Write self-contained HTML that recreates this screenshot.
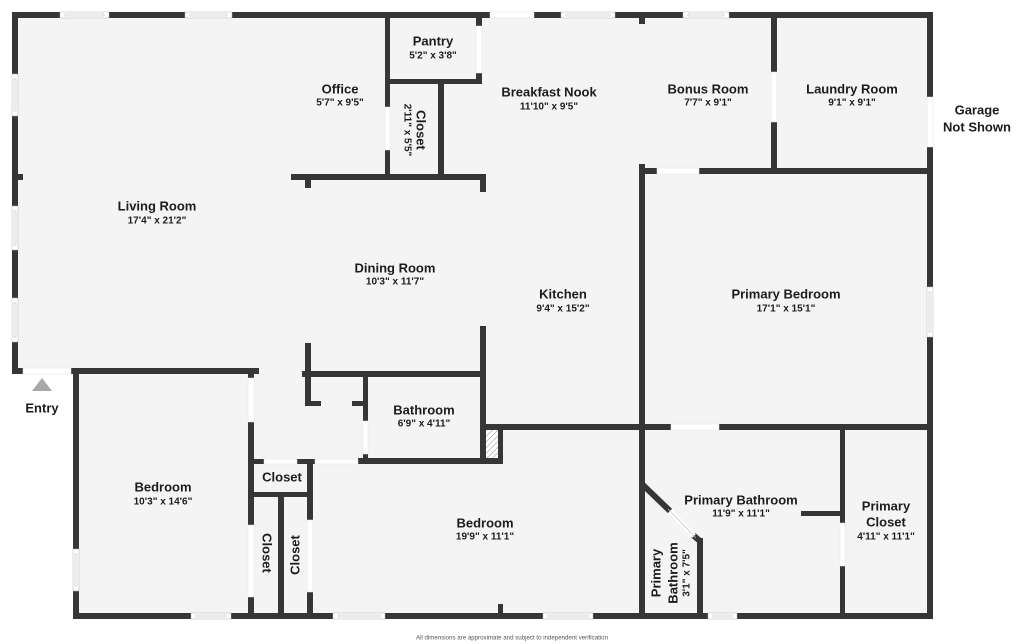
<!DOCTYPE html>
<html>
<head>
<meta charset="utf-8">
<style>
html,body{margin:0;padding:0;background:#fff;}
svg{display:block;}
text{font-family:"Liberation Sans",Arial,sans-serif;fill:#1c1c1c;text-anchor:middle;dominant-baseline:central;}
.t{font-size:13px;font-weight:bold;}
.d{font-size:10px;font-weight:bold;}
</style>
</head>
<body>
<svg width="1024" height="644" viewBox="0 0 1024 644" xmlns="http://www.w3.org/2000/svg">
<defs>
<pattern id="hatch" width="4" height="4" patternUnits="userSpaceOnUse" patternTransform="rotate(45)">
<rect width="4" height="4" fill="#fff"/>
<line x1="0" y1="0" x2="0" y2="4" stroke="#8a8a8a" stroke-width="1"/>
</pattern>
</defs>
<rect width="1024" height="644" fill="#fff"/>
<polygon points="12,12 933,12 933,619 73,619 73,374 12,374" fill="#f4f4f4"/>

<g fill="#363636">
<rect x="12" y="12" width="921" height="6"/>
<rect x="12" y="12" width="6" height="362"/>
<rect x="927" y="12" width="6" height="607"/>
<rect x="73" y="613" width="860" height="6"/>
<rect x="73" y="368" width="6" height="251"/>
<rect x="71" y="368" width="188" height="6"/>
<rect x="12" y="368" width="11" height="6"/>
<rect x="18" y="174" width="5" height="6"/>

<rect x="385" y="12" width="5" height="168"/>
<rect x="385" y="79" width="97" height="5"/>
<rect x="476" y="12" width="6" height="72"/>
<rect x="438" y="79" width="6" height="101"/>
<rect x="291" y="174" width="195" height="6"/>
<rect x="305" y="180" width="6" height="8"/>
<rect x="480" y="180" width="6" height="12"/>

<rect x="639" y="18" width="6" height="6"/>
<rect x="771" y="12" width="6" height="162"/>
<rect x="639" y="168" width="294" height="6"/>
<rect x="639" y="164" width="6" height="455"/>
<rect x="480" y="424" width="453" height="6"/>
<rect x="840" y="424" width="5" height="195"/>
<rect x="801" y="511" width="42" height="5"/>

<line x1="643" y1="485" x2="670" y2="511" stroke="#363636" stroke-width="6"/>
<line x1="693" y1="535" x2="701" y2="542" stroke="#363636" stroke-width="6"/>
<rect x="697" y="538" width="6" height="81"/>

<rect x="480" y="326" width="6" height="138"/>
<rect x="302" y="371" width="184" height="6"/>
<rect x="305" y="343" width="6" height="63"/>
<rect x="305" y="401" width="16" height="5"/>
<rect x="363" y="371" width="5" height="93"/>
<rect x="352" y="401" width="12" height="5"/>
<rect x="358" y="458" width="145" height="6"/>
<rect x="498" y="424" width="5" height="40"/>

<rect x="248" y="368" width="6" height="251"/>
<rect x="248" y="459" width="67" height="5"/>
<rect x="254" y="492" width="56" height="5"/>
<rect x="307" y="459" width="6" height="160"/>
<rect x="278" y="492" width="6" height="127"/>
<rect x="498" y="604" width="5" height="10"/>
</g>

<rect x="486" y="430" width="12" height="28" fill="url(#hatch)"/>

<g fill="#fff" stroke="#e2e2e2" stroke-width="0.5">
<rect x="490" y="12" width="44" height="6"/>
<rect x="23" y="368" width="48" height="6"/>
<rect x="927" y="97" width="6" height="50"/>
<rect x="385" y="107" width="5" height="43"/>
<rect x="476" y="26" width="6" height="47"/>
<rect x="771" y="72" width="6" height="50"/>
<rect x="657" y="168" width="42" height="6"/>
<rect x="671" y="424" width="48" height="6"/>
<rect x="840" y="523" width="5" height="43"/>
<rect x="363" y="421" width="5" height="33"/>
<rect x="248" y="378" width="6" height="44"/>
<rect x="248" y="525" width="6" height="72"/>
<rect x="264" y="459" width="33" height="5"/>
<rect x="315" y="459" width="43" height="5"/>
<rect x="307" y="520" width="6" height="72"/>
</g>
<line x1="670" y1="511" x2="694" y2="536" stroke="#fff" stroke-width="5"/>
<line x1="668" y1="509" x2="692" y2="534" stroke="#ccc" stroke-width="0.6"/>
<line x1="672" y1="513" x2="696" y2="538" stroke="#ccc" stroke-width="0.6"/>

<g fill="#fff" stroke="#b4b4b4" stroke-width="0.5">
<rect x="60" y="12" width="49" height="6"/><rect x="65" y="14" width="39" height="2"/>
<rect x="185" y="12" width="47" height="6"/><rect x="190" y="14" width="37" height="2"/>
<rect x="561" y="12" width="54" height="6"/><rect x="566" y="14" width="44" height="2"/>
<rect x="683" y="12" width="46" height="6"/><rect x="688" y="14" width="36" height="2"/>
<rect x="12" y="74" width="6" height="42"/><rect x="14" y="79" width="2" height="32"/>
<rect x="12" y="206" width="6" height="44"/><rect x="14" y="211" width="2" height="34"/>
<rect x="12" y="298" width="6" height="44"/><rect x="14" y="303" width="2" height="34"/>
<rect x="927" y="287" width="6" height="50"/><rect x="929" y="292" width="2" height="40"/>
<rect x="73" y="549" width="6" height="42"/><rect x="75" y="554" width="2" height="32"/>
<rect x="191" y="613" width="40" height="6"/><rect x="196" y="615" width="30" height="2"/>
<rect x="333" y="613" width="52" height="6"/><rect x="338" y="615" width="42" height="2"/>
<rect x="543" y="613" width="50" height="6"/><rect x="548" y="615" width="40" height="2"/>
<rect x="708" y="613" width="29" height="6"/><rect x="713" y="615" width="19" height="2"/>
</g>

<polygon points="32,391 52,391 42,378" fill="#a8a8a8"/>

<text class="t" x="340" y="89">Office</text>
<text class="d" x="340" y="103">5'7" x 9'5"</text>
<text class="t" x="433" y="41">Pantry</text>
<text class="d" x="433" y="56">5'2" x 3'8"</text>
<g transform="translate(421,130) rotate(90)"><text class="t" x="0" y="0">Closet</text></g>
<g transform="translate(407,130) rotate(90)"><text class="d" x="0" y="0">2'11" x 5'5"</text></g>
<text class="t" x="157" y="206">Living Room</text>
<text class="d" x="157" y="221">17'4" x 21'2"</text>
<text class="t" x="395" y="268">Dining Room</text>
<text class="d" x="395" y="282">10'3" x 11'7"</text>
<text class="t" x="549" y="92">Breakfast Nook</text>
<text class="d" x="549" y="107">11'10" x 9'5"</text>
<text class="t" x="708" y="89">Bonus Room</text>
<text class="d" x="708" y="103">7'7" x 9'1"</text>
<text class="t" x="852" y="89">Laundry Room</text>
<text class="d" x="852" y="103">9'1" x 9'1"</text>
<text class="t" x="977" y="110">Garage</text>
<text class="t" x="977" y="127">Not Shown</text>
<text class="t" x="563" y="294">Kitchen</text>
<text class="d" x="563" y="309">9'4" x 15'2"</text>
<text class="t" x="786" y="294">Primary Bedroom</text>
<text class="d" x="786" y="309">17'1" x 15'1"</text>
<text class="t" x="424" y="410">Bathroom</text>
<text class="d" x="424" y="424">6'9" x 4'11"</text>
<text class="t" x="42" y="408">Entry</text>
<text class="t" x="282" y="477">Closet</text>
<text class="t" x="163" y="487">Bedroom</text>
<text class="d" x="163" y="502">10'3" x 14'6"</text>
<g transform="translate(267,553) rotate(90)"><text class="t" x="0" y="0">Closet</text></g>
<g transform="translate(295,555) rotate(-90)"><text class="t" x="0" y="0">Closet</text></g>
<text class="t" x="485" y="523">Bedroom</text>
<text class="d" x="485" y="537">19'9" x 11'1"</text>
<text class="t" x="741" y="500">Primary Bathroom</text>
<text class="d" x="741" y="514">11'9" x 11'1"</text>
<text class="t" x="886" y="506">Primary</text>
<text class="t" x="886" y="522">Closet</text>
<text class="d" x="886" y="537">4'11" x 11'1"</text>
<g transform="translate(656,573) rotate(-90)"><text class="t" x="0" y="0">Primary</text></g>
<g transform="translate(673,573) rotate(-90)"><text class="t" x="0" y="0">Bathroom</text></g>
<g transform="translate(687,573) rotate(-90)"><text class="d" x="0" y="0">3'1" x 7'5"</text></g>

<text x="512" y="638" font-size="6.2" style="fill:#555" textLength="192" lengthAdjust="spacingAndGlyphs">All dimensions are approximate and subject to independent verification</text>
</svg>
</body>
</html>
